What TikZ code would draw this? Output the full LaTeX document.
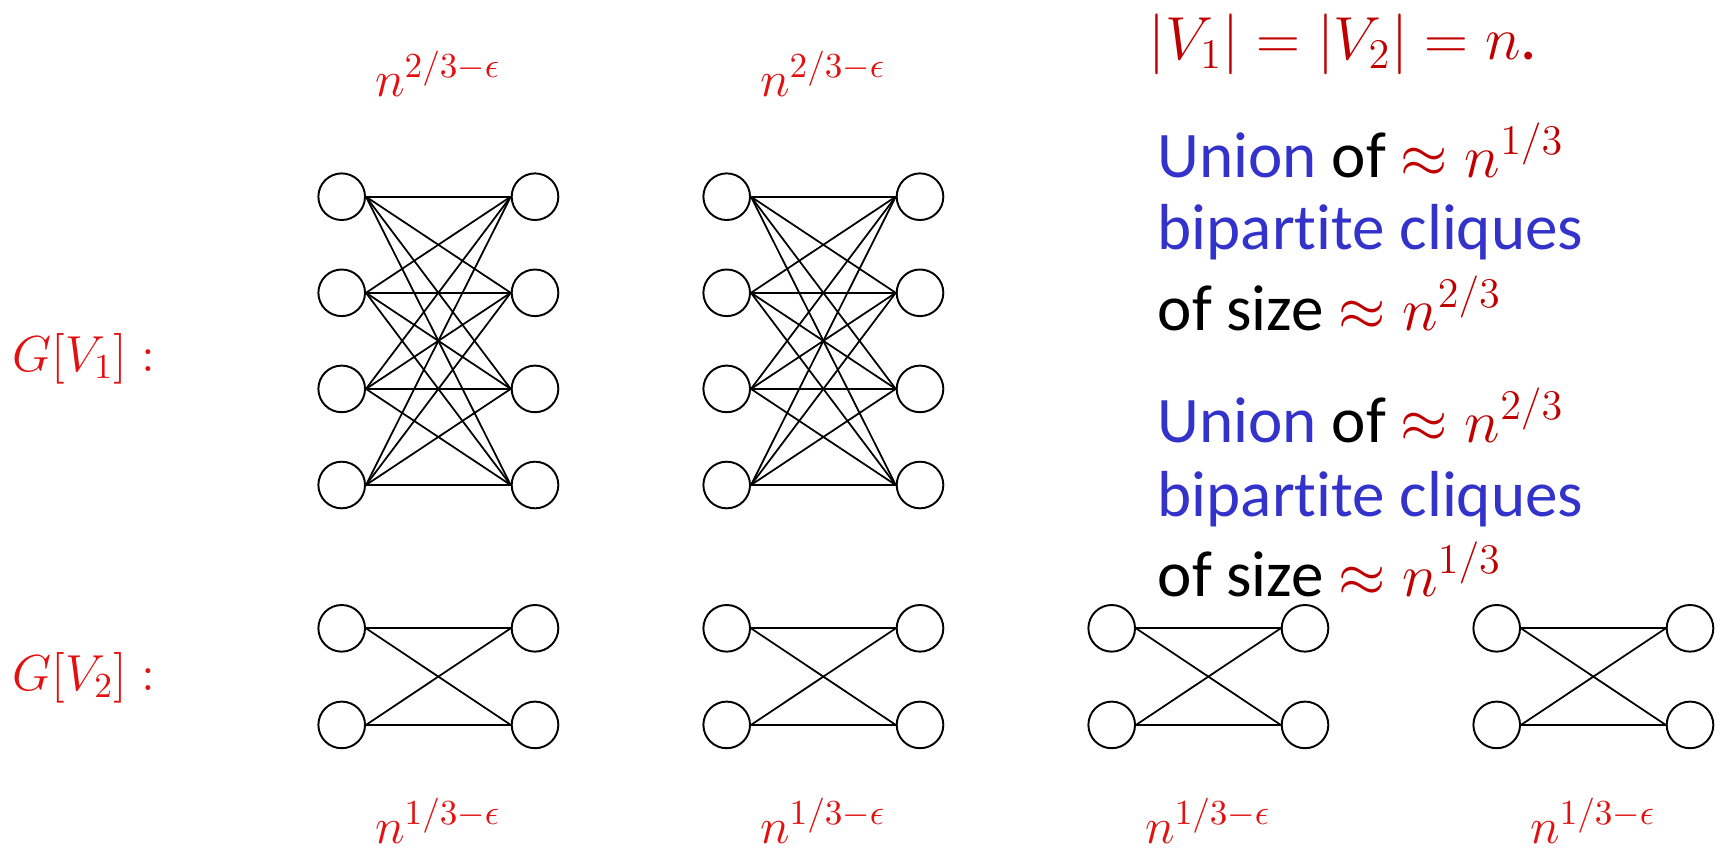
\documentclass[tikz,border=0pt]{standalone}
\usepackage{amsmath}
\usepackage{amssymb}
\usepackage{fontspec}
\usepackage{xcolor}
\newfontfamily\slidefont[Ligatures=NoCommon]{Carlito}
\definecolor{labred}{RGB}{228,16,16}
\definecolor{txtred}{RGB}{192,0,0}
\definecolor{txtblue}{RGB}{51,51,204}

\begin{document}
\begin{tikzpicture}[x=0.01cm,y=-0.01cm,
  vert/.style={circle,draw,line width=0.55pt,minimum size=0.466cm,inner sep=0pt},
  edge/.style={line width=0.5pt},
  lab/.style={text=labred,font=\fontsize{14}{17}\selectfont},
  say/.style={anchor=base west,inner sep=0pt,font=\slidefont\fontsize{18.5}{22}\selectfont}]
  \useasboundingbox (0,0) rectangle (1725,848);
  \foreach \c in {0,1} {
    \foreach \i in {1,...,4} {
      \node[vert] (tl\c\i) at (341.7+385*\c,100.6+96.1*\i) {};
      \node[vert] (tr\c\i) at (535+385*\c,100.6+96.1*\i) {};
    }
    \foreach \i in {1,...,4}
      \foreach \j in {1,...,4}
        \draw[edge] (tl\c\i.east) -- (tr\c\j.west);
    \node[lab,anchor=base] (top\c) at (438+385*\c,96) {$n^{2/3-\epsilon}$};
  }
  \foreach \c in {0,...,3} {
    \foreach \i in {1,2} {
      \node[vert] (bl\c\i) at (341.7+385*\c,531.7+96.6*\i) {};
      \node[vert] (br\c\i) at (535+385*\c,531.7+96.6*\i) {};
    }
    \foreach \i in {1,2}
      \foreach \j in {1,2}
        \draw[edge] (bl\c\i.east) -- (br\c\j.west);
    \node[lab,anchor=base] (bot\c) at (438+385*\c,843) {$n^{1/3-\epsilon}$};
  }
  \node[lab,anchor=base] (gone) at (84,371) {$G[V_1]:$};
  \node[lab,anchor=base] (gtwo) at (84,690) {$G[V_2]:$};
  \node[say,text=txtred] (sizes) at (1148,59) {$|V_1| = |V_2| = n$.};
  \node[say] (uniona) at (1157,177) {\textcolor{txtblue}{Union} of \textcolor{txtred}{$\approx n^{1/3}$}};
  \node[say,text=txtblue] (bipa) at (1157,249) {bipartite cliques};
  \node[say] (sizea) at (1157,330) {of size \textcolor{txtred}{$\approx n^{2/3}$}};
  \node[say] (unionb) at (1157,442) {\textcolor{txtblue}{Union} of \textcolor{txtred}{$\approx n^{2/3}$}};
  \node[say,text=txtblue] (bipb) at (1157,516) {bipartite cliques};
  \node[say] (sizeb) at (1157,596) {of size \textcolor{txtred}{$\approx n^{1/3}$}};
\end{tikzpicture}
\end{document}
